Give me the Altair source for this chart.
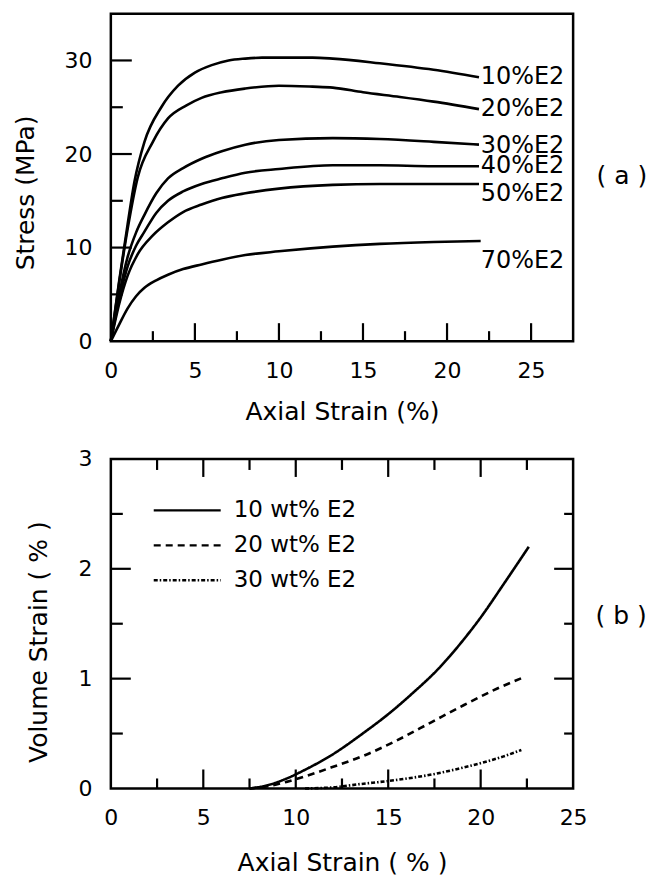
import altair as alt
import pandas as pd

# ---------------- Panel (a): stress-strain curves ----------------
s10_x = [0, 0.5, 1.0, 1.4, 2.0, 3.0, 4.0, 5.0, 6.0, 7.0, 8.0, 9.0, 10.0, 12.0, 13.2, 16.0, 19.2, 21.9]
s10_y = [0, 6.5, 12.5, 17.0, 21.3, 25.0, 27.3, 28.7, 29.5, 30.0, 30.2, 30.3, 30.3, 30.3, 30.2, 29.7, 29.0, 28.2]
s20_x = [0, 0.5, 1.0, 1.6, 2.5, 3.4, 4.5, 5.4, 6.6, 8.0, 10.0, 12.0, 13.2, 15.0, 17.2, 19.2, 21.9]
s20_y = [0, 6.3, 12.0, 17.5, 21.3, 23.8, 25.2, 26.0, 26.6, 27.0, 27.3, 27.2, 27.1, 26.6, 26.1, 25.6, 24.8]
s30_x = [0, 0.5, 1.0, 1.5, 2.0, 2.7, 3.4, 4.3, 5.4, 6.6, 8.0, 10.0, 13.2, 16.0, 19.2, 21.9]
s30_y = [0, 5.0, 9.0, 11.6, 13.5, 15.8, 17.4, 18.5, 19.5, 20.3, 21.0, 21.5, 21.7, 21.6, 21.3, 21.0]
s40_x = [0, 0.5, 1.0, 1.5, 2.0, 2.7, 3.4, 4.3, 5.4, 6.6, 8.0, 10.0, 13.2, 16.0, 19.2, 21.9]
s40_y = [0, 4.5, 8.0, 10.2, 11.7, 13.7, 15.0, 16.0, 16.8, 17.4, 18.0, 18.4, 18.8, 18.8, 18.7, 18.7]
s50_x = [0, 0.5, 1.0, 1.6, 2.5, 3.4, 4.3, 5.4, 6.6, 8.0, 10.0, 13.2, 16.0, 19.2, 21.9]
s50_y = [0, 4.0, 7.0, 9.3, 11.3, 12.7, 13.8, 14.6, 15.3, 15.8, 16.3, 16.7, 16.8, 16.8, 16.8]
s70_x = [0, 0.5, 1.0, 1.5, 2.0, 2.7, 3.4, 4.3, 5.4, 6.6, 8.0, 10.0, 13.2, 16.0, 19.2, 22.0]
s70_y = [0, 1.8, 3.5, 4.8, 5.7, 6.5, 7.1, 7.7, 8.2, 8.7, 9.2, 9.6, 10.1, 10.4, 10.6, 10.7]

a_series = ["10%E2", "20%E2", "30%E2", "40%E2", "50%E2", "70%E2"]
a_label_x = [22.0, 22.0, 22.0, 22.0, 22.0, 22.0]
a_label_y = [28.2, 24.8, 20.9, 18.7, 15.7, 8.6]

a_x_ticks = [0, 5, 10, 15, 20, 25]
a_y_ticks = [0, 10, 20, 30]
a_x_major = [5, 10, 15, 20, 25]
a_x_minor = [2.5, 7.5, 12.5, 17.5, 22.5]
a_y_major = [10, 20, 30]
a_y_minor = [5, 15, 25]

# ---------------- Panel (b): volume strain ----------------
v10_x = [7.5, 8.5, 9.5, 10.5, 11.9, 13.7, 15.1, 16.4, 17.6, 19.1, 20.1, 21.2, 22.6]
v10_y = [0.0, 0.03, 0.09, 0.17, 0.30, 0.51, 0.69, 0.88, 1.07, 1.36, 1.58, 1.85, 2.2]
v20_x = [7.5, 8.5, 9.5, 10.5, 11.9, 13.7, 15.5, 17.3, 19.1, 20.9, 22.3]
v20_y = [0.0, 0.02, 0.06, 0.11, 0.19, 0.30, 0.44, 0.60, 0.76, 0.91, 1.01]
v30_x = [10.5, 12.0, 13.5, 15.1, 16.4, 17.6, 18.8, 20.1, 21.2, 22.2]
v30_y = [0.0, 0.01, 0.04, 0.07, 0.10, 0.135, 0.18, 0.235, 0.29, 0.35]
b_series = ["10 wt% E2", "20 wt% E2", "30 wt% E2"]

b_x_ticks = [0, 5, 10, 15, 20, 25]
b_y_ticks = [0, 1, 2, 3]
b_x_major = [5, 10, 15, 20]
b_x_minor = [2.5, 7.5, 12.5, 17.5, 22.5]
b_y_major = [1, 2]
b_y_minor = [0.5, 1.5, 2.5]

panel_labels = ["( a )", "( b )"]

FONT = "DejaVu Sans"
W, HA, HB = 463, 328, 330
LW = 2.6

# ---------- build panel (a) ----------
a_rows = []
for name, xs, ys in zip(a_series, [s10_x, s20_x, s30_x, s40_x, s50_x, s70_x],
                        [s10_y, s20_y, s30_y, s40_y, s50_y, s70_y]):
    for i, (xv, yv) in enumerate(zip(xs, ys)):
        a_rows.append({"series": name, "x": xv, "y": yv, "order": i})
a_df = pd.DataFrame(a_rows)

ax_scale = alt.Scale(domain=[0, 27.5], nice=False, zero=False)
ay_scale = alt.Scale(domain=[0, 35], nice=False, zero=False)
ax_axis = alt.Axis(values=a_x_ticks, title="Axial Strain (%)", titleY=70, titleBaseline="middle")
ay_axis = alt.Axis(values=a_y_ticks, title="Stress (MPa)", titleX=-85, titleY=179,
                   titleBaseline="middle", titleAlign="center")

def AX(f):
    return alt.X(f, type="quantitative", scale=ax_scale, axis=ax_axis)

def AY(f):
    return alt.Y(f, type="quantitative", scale=ay_scale, axis=ay_axis)

a_lines = alt.Chart(a_df).mark_line(color="black", strokeWidth=LW, interpolate="monotone").encode(
    x=AX("x"), y=AY("y"), detail="series:N", order="order:Q")

a_lab_df = pd.DataFrame({"label": a_series, "x": a_label_x, "y": a_label_y})
a_labels = alt.Chart(a_lab_df).mark_text(align="left", baseline="middle", fontSize=24,
                                         font=FONT, color="black").encode(
    x=AX("x"), y=AY("y"), text="label:N")

a_panel_df = pd.DataFrame({"label": [panel_labels[0]], "x": [30.4], "y": [17.6]})
a_panel = alt.Chart(a_panel_df).mark_text(align="center", baseline="middle", fontSize=25,
                                          font=FONT, color="black").encode(
    x=AX("x"), y=AY("y"), text="label:N")

def xticks(vals, scale_fn, h, length):
    df = pd.DataFrame({"v": vals})
    return alt.Chart(df).mark_rule(color="black", strokeWidth=2.2).encode(
        x=scale_fn("v"), y=alt.value(h), y2=alt.value(h - length))

def xticks_top(vals, scale_fn, length):
    df = pd.DataFrame({"v": vals})
    return alt.Chart(df).mark_rule(color="black", strokeWidth=2.2).encode(
        x=scale_fn("v"), y=alt.value(0), y2=alt.value(length))

def yticks(vals, scale_fn, x0, length):
    df = pd.DataFrame({"v": vals})
    return alt.Chart(df).mark_rule(color="black", strokeWidth=2.2).encode(
        y=scale_fn("v"), x=alt.value(x0), x2=alt.value(x0 + length))

top = alt.layer(
    a_lines, a_labels, a_panel,
    xticks(a_x_major, AX, HA, 18), xticks(a_x_minor, AX, HA, 10),
    yticks(a_y_major, AY, 0, 21), yticks(a_y_minor, AY, 0, 12),
).properties(width=W, height=HA)

# ---------- build panel (b) ----------
b_rows = []
for name, xs, ys in zip(b_series, [v10_x, v20_x, v30_x], [v10_y, v20_y, v30_y]):
    for i, (xv, yv) in enumerate(zip(xs, ys)):
        b_rows.append({"series": name, "x": xv, "y": yv, "order": i})
b_df = pd.DataFrame(b_rows)

bx_scale = alt.Scale(domain=[0, 25], nice=False, zero=False)
by_scale = alt.Scale(domain=[0, 3], nice=False, zero=False)
bx_axis = alt.Axis(values=b_x_ticks, title="Axial Strain ( % )", titleY=74, titleBaseline="middle")
by_axis = alt.Axis(values=b_y_ticks, title="Volume Strain ( % )", titleX=-72, titleY=183,
                   titleBaseline="middle", titleAlign="center")

def BX(f):
    return alt.X(f, type="quantitative", scale=bx_scale, axis=bx_axis)

def BY(f):
    return alt.Y(f, type="quantitative", scale=by_scale, axis=by_axis)

b_lines = alt.Chart(b_df).mark_line(color="black", strokeWidth=LW, interpolate="monotone").encode(
    x=BX("x"), y=BY("y"), order="order:Q",
    strokeDash=alt.StrokeDash(
        "series:N",
        scale=alt.Scale(domain=b_series, range=[[1, 0], [7, 5], [4, 2, 1.5, 2]]),
        legend=alt.Legend(title=None, orient="none", legendX=65, legendY=40,
                          symbolType="M-6,0H6", symbolSize=125, symbolStrokeWidth=2.4,
                          symbolStrokeColor="black", labelFontSize=23, labelFont=FONT,
                          labelColor="black", labelOffset=35, rowPadding=11),
    ),
)

b_panel_df = pd.DataFrame({"label": [panel_labels[1]], "x": [27.6], "y": [1.57]})
b_panel = alt.Chart(b_panel_df).mark_text(align="center", baseline="middle", fontSize=25,
                                          font=FONT, color="black").encode(
    x=BX("x"), y=BY("y"), text="label:N")

def yticks_right(vals, scale_fn, length):
    df = pd.DataFrame({"v": vals})
    return alt.Chart(df).mark_rule(color="black", strokeWidth=2.2).encode(
        y=scale_fn("v"), x=alt.value(W), x2=alt.value(W - length))

bottom = alt.layer(
    b_lines, b_panel,
    xticks(b_x_major, BX, HB, 19), xticks(b_x_minor, BX, HB, 10),
    xticks_top(b_x_major, BX, 18), xticks_top(b_x_minor, BX, 11),
    yticks(b_y_major, BY, 0, 20), yticks(b_y_minor, BY, 0, 12),
    yticks_right(b_y_major, BY, 19), yticks_right(b_y_minor, BY, 9),
).properties(width=W, height=HB)

chart = alt.vconcat(top, bottom, spacing=20).resolve_legend(
    strokeDash="independent"
).properties(
    padding={"left": 4, "top": 3, "right": 0, "bottom": 0}
).configure(font=FONT).configure_view(
    stroke="black", strokeWidth=2.5
).configure_axis(
    domain=False, ticks=False, tickSize=0, grid=False,
    labelFontSize=22, labelFont=FONT, labelColor="black", labelPadding=19, labelFlush=False,
    titleFontSize=25, titleFont=FONT, titleColor="black", titleFontWeight="normal",
)

chart.save("out.html", embed_options={"renderer": "svg", "actions": False})
